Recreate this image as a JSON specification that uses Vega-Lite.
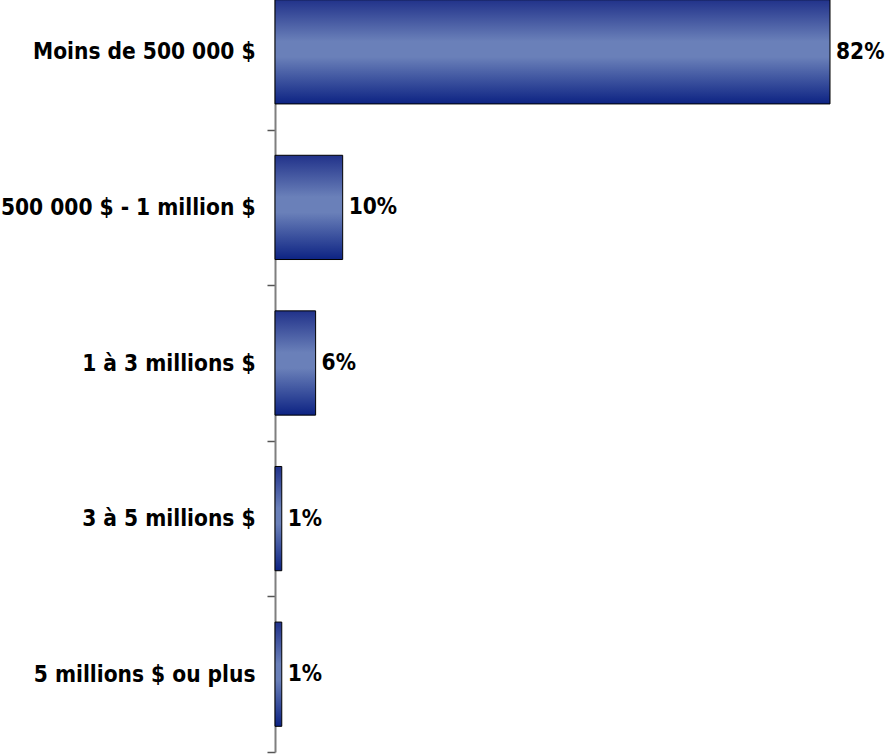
{
  "$schema": "https://vega.github.io/schema/vega-lite/v6.json",
  "width": 555,
  "height": 752,
  "autosize": {"type": "none"},
  "padding": {"left": 275, "top": 0, "right": 59, "bottom": 4},
  "background": "white",
  "config": {"view": {"stroke": null}},
  "data": {"values": [
    {"cat": "Moins de 500 000 $", "pct": 82, "label": "82%"},
    {"cat": "500 000 $ - 1 million $", "pct": 10, "label": "10%"},
    {"cat": "1 à 3 millions $", "pct": 6, "label": "6%"},
    {"cat": "3 à 5 millions $", "pct": 1, "label": "1%"},
    {"cat": "5 millions $ ou plus", "pct": 1, "label": "1%"}
  ]},
  "encoding": {
    "y": {"field": "cat", "type": "nominal", "sort": null,
      "scale": {"range": [-26, 752], "paddingInner": 0, "paddingOuter": 0},
      "axis": {"title": null, "domainColor": "#7f7f7f", "domainWidth": 2, "tickColor": "#555555", "tickWidth": 1.5, "tickSize": 8, "tickBand": "extent",
        "labelFont": "DejaVu Sans Condensed, Liberation Sans", "labelFontSize": 22.5, "labelFontWeight": "bold", "labelColor": "black", "labelPadding": 12, "labelLimit": 400}},
    "x": {"field": "pct", "type": "quantitative", "scale": {"domain": [0, 82], "nice": false}, "axis": null}
  },
  "layer": [
    {"mark": {"type": "bar", "stroke": "black", "strokeWidth": 1, "clip": false, "height": {"band": 0.67},
      "color": {"gradient": "linear", "x1": 0, "y1": 0, "x2": 0, "y2": 1,
        "stops": [{"offset": 0, "color": "#21328a"}, {"offset": 0.4, "color": "#6a80b9"}, {"offset": 0.55, "color": "#6a80b9"}, {"offset": 1, "color": "#0d2383"}]}}},
    {"mark": {"type": "text", "align": "left", "baseline": "middle", "dx": 6, "font": "DejaVu Sans Condensed, Liberation Sans", "fontSize": 22.5, "fontWeight": "bold", "color": "black", "clip": false},
      "encoding": {"text": {"field": "label"}}}
  ]
}
